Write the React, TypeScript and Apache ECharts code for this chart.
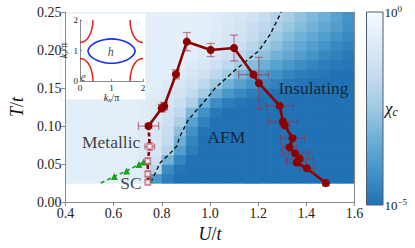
import React, { useEffect, useRef } from "react";
import * as echarts from "echarts";

// ---------- heat map of chi_c (log10), cells centred on these U / T values ----------
const U_CELLS = [0.425, 0.475, 0.525, 0.575, 0.625, 0.675, 0.725, 0.775, 0.825, 0.875, 0.925, 0.975, 1.025, 1.075, 1.125, 1.175, 1.225, 1.275, 1.325, 1.375, 1.425, 1.475, 1.525, 1.575];
const T_CELLS = [0.03125, 0.04375, 0.05625, 0.06875, 0.08125, 0.09375, 0.10625, 0.11875, 0.13125, 0.14375, 0.15625, 0.16875, 0.18125, 0.19375, 0.20625, 0.21875, 0.23125, 0.24375];
const LOG_CHI = [
  [-0.7, -0.7, -0.7, -0.7, -0.7, -0.7, -0.8, -4.0, -4.7, -5, -5, -5, -5, -5, -5, -5, -5, -5, -5, -5, -5, -5, -5, -5],
  [-0.7, -0.7, -0.7, -0.7, -0.7, -0.7, -0.8, -2.0, -4.3, -4.9, -5, -5, -5, -5, -5, -5, -5, -5, -5, -5, -5, -5, -5, -5],
  [-0.7, -0.7, -0.7, -0.7, -0.7, -0.7, -0.9, -1.4, -3.2, -4.5, -5, -5, -5, -5, -5, -5, -5, -5, -5, -5, -5, -5, -5, -5],
  [-0.7, -0.7, -0.7, -0.7, -0.7, -0.7, -0.9, -1.2, -2.0, -3.8, -4.7, -5, -5, -5, -5, -5, -5, -5, -5, -5, -5, -5, -5, -5],
  [-0.7, -0.7, -0.7, -0.7, -0.7, -0.7, -0.9, -1.1, -1.7, -3.3, -4.5, -5, -5, -5, -5, -5, -5, -5, -5, -5, -5, -5, -5, -5],
  [-0.7, -0.7, -0.7, -0.7, -0.7, -0.7, -0.9, -1.1, -1.6, -2.8, -4.2, -4.9, -5, -5, -5, -5, -5, -5, -5, -5, -5, -5, -5, -5],
  [-0.7, -0.7, -0.7, -0.7, -0.7, -0.7, -0.8, -1.0, -1.4, -2.2, -3.7, -4.6, -5, -5, -5, -5, -5, -5, -5, -5, -5, -5, -5, -5],
  [-0.7, -0.7, -0.7, -0.7, -0.7, -0.7, -0.8, -1.0, -1.3, -1.8, -3.0, -4.2, -4.8, -5, -5, -5, -5, -5, -5, -5, -5, -5, -5, -5],
  [-0.7, -0.7, -0.7, -0.7, -0.7, -0.7, -0.8, -0.9, -1.2, -1.5, -2.2, -3.4, -4.3, -4.7, -4.9, -5, -5, -5, -5, -5, -5, -5, -5, -5],
  [-0.7, -0.7, -0.7, -0.7, -0.7, -0.7, -0.7, -0.8, -1.0, -1.3, -1.7, -2.4, -3.4, -4.0, -4.4, -4.7, -4.9, -5, -5, -5, -5, -5, -5, -5],
  [-0.7, -0.7, -0.7, -0.7, -0.7, -0.7, -0.7, -0.7, -0.9, -1.1, -1.4, -1.8, -2.5, -3.2, -3.7, -4.1, -4.4, -4.6, -4.8, -4.9, -5, -5, -5, -5],
  [-0.7, -0.7, -0.7, -0.7, -0.7, -0.7, -0.7, -0.7, -0.7, -0.9, -1.1, -1.4, -1.8, -2.4, -3.0, -3.5, -3.9, -4.2, -4.5, -4.7, -4.8, -4.9, -5, -5],
  [-0.7, -0.7, -0.7, -0.7, -0.7, -0.7, -0.7, -0.7, -0.7, -0.7, -0.9, -1.1, -1.4, -1.8, -2.3, -2.9, -3.3, -3.7, -4.0, -4.3, -4.5, -4.7, -4.8, -4.9],
  [-0.7, -0.7, -0.7, -0.7, -0.7, -0.7, -0.7, -0.7, -0.7, -0.7, -0.7, -0.9, -1.1, -1.4, -1.8, -2.3, -2.8, -3.2, -3.5, -3.8, -4.1, -4.4, -4.6, -4.8],
  [-0.7, -0.7, -0.7, -0.7, -0.7, -0.7, -0.7, -0.7, -0.7, -0.7, -0.7, -0.8, -1.0, -1.2, -1.5, -1.9, -2.4, -2.8, -3.2, -3.5, -3.8, -4.1, -4.4, -4.6],
  [-0.6, -0.6, -0.6, -0.6, -0.6, -0.6, -0.6, -0.6, -0.6, -0.6, -0.6, -0.7, -0.9, -1.1, -1.3, -1.6, -2.0, -2.5, -2.9, -3.2, -3.5, -3.8, -4.1, -4.4],
  [-0.6, -0.6, -0.6, -0.6, -0.6, -0.6, -0.6, -0.6, -0.6, -0.6, -0.6, -0.7, -0.8, -1.0, -1.2, -1.5, -1.8, -2.2, -2.6, -2.9, -3.2, -3.5, -3.8, -4.2],
  [-0.6, -0.6, -0.6, -0.6, -0.6, -0.6, -0.6, -0.6, -0.6, -0.6, -0.6, -0.7, -0.8, -0.9, -1.1, -1.3, -1.6, -2.0, -2.3, -2.7, -3.0, -3.3, -3.7, -4.1],
];
const LOG_MIN = -5;
const LOG_MAX = 0;
const BLUES = ["#2171b5", "#4292c6", "#6baed6", "#9ecae1", "#c6dbef", "#deebf7", "#f7fbff"];

// ---------- T_c line (solid, filled circles) ----------
const U_MAIN = [0.745, 0.8, 0.81, 0.859, 0.904, 1.003, 1.1, 1.181, 1.203, 1.29, 1.303, 1.31, 1.343, 1.33, 1.354, 1.372, 1.36, 1.402, 1.481];
const T_MAIN = [0.1, 0.1235, 0.126, 0.168, 0.211, 0.2, 0.2026, 0.1676, 0.1564, 0.1265, 0.106, 0.101, 0.084, 0.072, 0.064, 0.057, 0.052, 0.0445, 0.025];
const UERR_MAIN = [0.042, 0.012, 0.012, 0.012, 0.004, 0.004, 0.004, 0.062, 0.004, 0.057, 0.06, 0.02, 0.05, 0.03, 0.055, 0.057, 0.04, 0.03, 0.012];
const TERR_MAIN = [0.003, 0.005, 0.005, 0.006, 0.012, 0.0086, 0.017, 0.003, 0.034, 0.003, 0.003, 0.003, 0.003, 0.003, 0.003, 0.003, 0.003, 0.003, 0.003];

// ---------- lower (dashed) branch, open squares ----------
const U_LOW = [0.745, 0.75, 0.742, 0.742, 0.742];
const T_LOW = [0.1, 0.073, 0.054, 0.037, 0.026];
const UERR_LOW = [0, 0.02, 0.006, 0.006, 0.006];
const TERR_LOW = [0, 0.005, 0.004, 0.004, 0.003];

// ---------- SC line (green triangles) ----------
const U_SC = [0.547, 0.603, 0.654, 0.705, 0.725, 0.741, 0.748];
const T_SC = [0.025, 0.0337, 0.041, 0.0496, 0.0526, 0.054, 0.03];

// ---------- AFM boundary (black dashed) ----------
const U_AFM = [0.754, 0.768, 0.794, 0.828, 0.861, 0.875, 0.908, 0.942, 0.989, 1.022, 1.102, 1.203, 1.25, 1.296];
const T_AFM = [0.026, 0.035, 0.052, 0.062, 0.073, 0.086, 0.107, 0.12, 0.137, 0.15, 0.173, 0.199, 0.2205, 0.25];

// ---------- region labels ----------
const REGION_LABELS = ["Metallic", "SC", "AFM", "Insulating"];
const REGION_U = [0.59, 0.672, 1.068, 1.43];
const REGION_T = [0.0795, 0.0253, 0.0859, 0.15];

// ---------- inset Fermi surface ----------
const POCKET_KX = [0, 0.12, 0.22, 0.3, 0.36, 0.4, 0.41];
const POCKET_KY = [0.74, 0.71, 0.63, 0.51, 0.36, 0.17, 0];
const HOLE_KX = [0.25, 0.3, 0.4, 0.55, 0.75, 1.0, 1.25, 1.45, 1.6, 1.7, 1.75];
const HOLE_KY_UPPER = [0.98, 1.1, 1.2, 1.29, 1.35, 1.38, 1.35, 1.29, 1.2, 1.1, 0.98];
const HOLE_KY_LOWER = [0.98, 0.86, 0.76, 0.67, 0.61, 0.58, 0.61, 0.67, 0.76, 0.86, 0.98];
const INSET_LABELS = ["h", "e"];
const INSET_LABEL_KX = [0.98, 0.1];
const INSET_LABEL_KY = [0.96, 0.12];

const SERIF = "'Liberation Serif', 'DejaVu Serif', serif";
const DARKRED = "#8b0000";
const ERR_COLOR = "rgba(160, 45, 65, 0.55)";

function zip(a: number[], b: number[]) {
  return a.map((v, i) => [v, b[i]]);
}

export default function App() {
  const ref = useRef<HTMLDivElement>(null);
  useEffect(() => {
    if (!ref.current) return;
    const chart = echarts.init(ref.current, null, { renderer: "svg" });

    const heatData: number[][] = [];
    T_CELLS.forEach((t, r) => U_CELLS.forEach((u, c) => heatData.push([u, t, LOG_CHI[r][c]])));
    const halfU = (U_CELLS[1] - U_CELLS[0]) / 2;
    const halfT = (T_CELLS[1] - T_CELLS[0]) / 2;

    const errRender = (capHalf: number) => (params: any, api: any) => {
      const u = api.value(0), t = api.value(1), ue = api.value(2), te = api.value(3);
      const children: any[] = [];
      const style = { stroke: ERR_COLOR, lineWidth: 1.3 };
      const ln = (x1: number, y1: number, x2: number, y2: number) =>
        children.push({ type: "line", shape: { x1, y1, x2, y2 }, style });
      if (ue > 0) {
        const a = api.coord([u - ue, t]);
        const b = api.coord([u + ue, t]);
        ln(a[0], a[1], b[0], b[1]);
        ln(a[0], a[1] - capHalf, a[0], a[1] + capHalf);
        ln(b[0], b[1] - capHalf, b[0], b[1] + capHalf);
      }
      if (te > 0) {
        const a = api.coord([u, t - te]);
        const b = api.coord([u, t + te]);
        ln(a[0], a[1], b[0], b[1]);
        ln(a[0] - capHalf, a[1], a[0] + capHalf, a[1]);
        ln(b[0] - capHalf, b[1], b[0] + capHalf, b[1]);
      }
      return { type: "group", children };
    };

    const mainAxisLine = { show: true, lineStyle: { color: "#8a8a8a", width: 1 } };
    const tickLabel = { fontFamily: SERIF, fontSize: 14, color: "#222" };
    const insetLabel = { fontFamily: SERIF, fontSize: 9, color: "#222" };

    const pocket = zip(POCKET_KX, POCKET_KY);
    const pockets = [
      pocket,
      pocket.map(([x, y]) => [2 - x, y]),
      pocket.map(([x, y]) => [x, 2 - y]),
      pocket.map(([x, y]) => [2 - x, 2 - y]),
    ];
    const hole = [...zip(HOLE_KX, HOLE_KY_UPPER), ...zip(HOLE_KX, HOLE_KY_LOWER).reverse()];

    const option: any = {
      animation: false,
      backgroundColor: "#ffffff",
      grid: [
        { left: 55.5, top: 12, width: 299, height: 194 },
        { left: 80, top: 20, width: 63, height: 61 },
      ],
      xAxis: [
        {
          type: "value", gridIndex: 0, position: "bottom", min: 0.4, max: 1.6, interval: 0.2, z: 70,
          axisLine: mainAxisLine, axisTick: { show: true, length: 4, lineStyle: { color: "#8a8a8a" } },
          axisLabel: { ...tickLabel, margin: 4, formatter: (v: number) => v.toFixed(1) },
          splitLine: { show: false },
          name: "{i|U}{n|/}{i|t}", nameLocation: "middle", nameGap: 21,
          nameTextStyle: { rich: { i: { fontFamily: SERIF, fontSize: 18, fontStyle: "italic", color: "#111" }, n: { fontFamily: SERIF, fontSize: 18, color: "#111" } } },
        },
        {
          type: "value", gridIndex: 0, position: "top", min: 0.4, max: 1.6, z: 70,
          axisLine: mainAxisLine, axisTick: { show: false }, axisLabel: { show: false }, splitLine: { show: false },
        },
        {
          type: "value", gridIndex: 1, position: "bottom", min: 0, max: 2, interval: 1, z: 90,
          axisLine: mainAxisLine, axisTick: { show: true, inside: true, length: 2, lineStyle: { color: "#8a8a8a" } },
          axisLabel: { ...insetLabel, margin: 2 }, splitLine: { show: false },
          name: "{i|k}{s|x}{n|/π}", nameLocation: "middle", nameGap: 9,
          nameTextStyle: {
            rich: {
              i: { fontFamily: SERIF, fontSize: 10, fontStyle: "italic", color: "#222", lineHeight: 12 },
              s: { fontFamily: SERIF, fontSize: 7, fontStyle: "italic", color: "#222", lineHeight: 8, verticalAlign: "bottom" },
              n: { fontFamily: SERIF, fontSize: 10, color: "#222", lineHeight: 12 },
            },
          },
        },
        {
          type: "value", gridIndex: 1, position: "top", min: 0, max: 2, z: 90,
          axisLine: mainAxisLine, axisTick: { show: false }, axisLabel: { show: false }, splitLine: { show: false },
        },
      ],
      yAxis: [
        {
          type: "value", gridIndex: 0, position: "left", min: 0, max: 0.25, interval: 0.05, z: 70,
          axisLine: mainAxisLine, axisTick: { show: true, length: 4, lineStyle: { color: "#8a8a8a" } },
          axisLabel: { ...tickLabel, margin: 4, formatter: (v: number) => v.toFixed(2) },
          splitLine: { show: false },
          name: "{i|T}{n|/}{i|t}", nameLocation: "middle", nameGap: 34, nameRotate: 90,
          nameTextStyle: { rich: { i: { fontFamily: SERIF, fontSize: 18, fontStyle: "italic", color: "#111" }, n: { fontFamily: SERIF, fontSize: 18, color: "#111" } } },
        },
        {
          type: "value", gridIndex: 0, position: "right", min: 0, max: 0.25, z: 70,
          axisLine: mainAxisLine, axisTick: { show: false }, axisLabel: { show: false }, splitLine: { show: false },
        },
        {
          type: "value", gridIndex: 1, position: "left", min: 0, max: 2, interval: 1, z: 90,
          axisLine: mainAxisLine, axisTick: { show: true, inside: true, length: 2, lineStyle: { color: "#8a8a8a" } },
          axisLabel: { ...insetLabel, margin: 2 }, splitLine: { show: false },
          name: "{i|k}{s|y}{n|/π}", nameLocation: "middle", nameGap: 8, nameRotate: 90,
          nameTextStyle: {
            rich: {
              i: { fontFamily: SERIF, fontSize: 10, fontStyle: "italic", color: "#222", lineHeight: 12 },
              s: { fontFamily: SERIF, fontSize: 7, fontStyle: "italic", color: "#222", lineHeight: 8, verticalAlign: "bottom" },
              n: { fontFamily: SERIF, fontSize: 10, color: "#222", lineHeight: 12 },
            },
          },
        },
        {
          type: "value", gridIndex: 1, position: "right", min: 0, max: 2, z: 90,
          axisLine: mainAxisLine, axisTick: { show: false }, axisLabel: { show: false }, splitLine: { show: false },
        },
      ],
      visualMap: {
        show: false, seriesIndex: 0, dimension: 2, min: LOG_MIN, max: LOG_MAX,
        inRange: { color: BLUES },
      },
      graphic: [
        {
          type: "rect", z: 50, shape: { x: 61, y: 13, width: 85, height: 87 },
          style: { fill: "rgba(255,255,255,0.96)", stroke: "rgba(228,235,243,1)", lineWidth: 1 },
        },
        {
          type: "rect", z: 50, shape: { x: 366.5, y: 12, width: 16.5, height: 193 },
          style: {
            fill: new echarts.graphic.LinearGradient(0, 0, 0, 1, BLUES.slice().reverse().map((c, i) => ({ offset: i / (BLUES.length - 1), color: c }))),
            stroke: "#4a5a70", lineWidth: 1,
          },
        },
        {
          type: "text", z: 50, x: 384.5, y: 12,
          style: {
            text: "{a|10}{b|0}", verticalAlign: "middle", align: "left",
            rich: {
              a: { fontFamily: SERIF, fontSize: 13, fill: "#222", lineHeight: 16 },
              b: { fontFamily: SERIF, fontSize: 9, fill: "#222", lineHeight: 9, verticalAlign: "top" },
            },
          },
        },
        {
          type: "text", z: 50, x: 384.5, y: 205,
          style: {
            text: "{a|10}{b|−5}", verticalAlign: "middle", align: "left",
            rich: {
              a: { fontFamily: SERIF, fontSize: 13, fill: "#222", lineHeight: 16 },
              b: { fontFamily: SERIF, fontSize: 9, fill: "#222", lineHeight: 9, verticalAlign: "top" },
            },
          },
        },
        {
          type: "text", z: 50, x: 385, y: 108,
          style: {
            text: "{a|χ}{b|c}", verticalAlign: "middle", align: "left",
            rich: {
              a: { fontFamily: SERIF, fontSize: 17, fontStyle: "italic", fill: "#111", lineHeight: 20 },
              b: { fontFamily: SERIF, fontSize: 12, fontStyle: "italic", fill: "#111", lineHeight: 12, verticalAlign: "bottom" },
            },
          },
        },
      ],
      series: [
        {
          type: "custom", xAxisIndex: 0, yAxisIndex: 0, z: 1, clip: true,
          encode: { x: 0, y: 1 },
          data: heatData,
          renderItem: (params: any, api: any) => {
            const u = api.value(0), t = api.value(1);
            const p0 = api.coord([u - halfU, t + halfT]);
            const p1 = api.coord([u + halfU, t - halfT]);
            return {
              type: "rect",
              shape: { x: p0[0], y: p0[1], width: p1[0] - p0[0] + 0.6, height: p1[1] - p0[1] + 0.6 },
              style: { fill: api.visual("color"), stroke: null },
            };
          },
        },
        {
          type: "line", xAxisIndex: 0, yAxisIndex: 0, z: 4,
          data: zip(U_AFM, T_AFM), symbol: "none",
          lineStyle: { color: "#111", width: 1.4, type: [4, 3] },
        },
        {
          type: "line", xAxisIndex: 0, yAxisIndex: 0, z: 5,
          data: zip(U_SC, T_SC).map((p, i) => (i === 0 ? { value: p, symbol: "none" } : { value: p })),
          symbol: "triangle", symbolSize: 7,
          itemStyle: { color: "#1f9e1f" },
          lineStyle: { color: "#1f9e1f", width: 1.6, type: [4, 3] },
        },
        {
          type: "custom", xAxisIndex: 0, yAxisIndex: 0, z: 6, encode: { x: 0, y: 1 },
          data: U_LOW.map((u, i) => [u, T_LOW[i], UERR_LOW[i], TERR_LOW[i]]),
          renderItem: errRender(3),
        },
        {
          type: "line", xAxisIndex: 0, yAxisIndex: 0, z: 7,
          data: zip(U_LOW, T_LOW).map((p, i) => (i === 0 ? { value: p, symbol: "none" } : { value: p })),
          symbol: "emptyRect", symbolSize: 5,
          itemStyle: { color: "rgba(190,80,100,0.6)", borderColor: "rgba(190,80,100,0.6)", borderWidth: 1 },
          lineStyle: { color: DARKRED, width: 2.6, type: [4, 2.5] },
        },
        {
          type: "custom", xAxisIndex: 0, yAxisIndex: 0, z: 8, encode: { x: 0, y: 1 },
          data: U_MAIN.map((u, i) => [u, T_MAIN[i], UERR_MAIN[i], TERR_MAIN[i]]),
          renderItem: errRender(4),
        },
        {
          type: "line", xAxisIndex: 0, yAxisIndex: 0, z: 9,
          data: zip(U_MAIN, T_MAIN), symbol: "circle", symbolSize: 8,
          itemStyle: { color: DARKRED },
          lineStyle: { color: DARKRED, width: 2.6 },
        },
        {
          type: "scatter", xAxisIndex: 0, yAxisIndex: 0, z: 10, symbolSize: 0,
          data: REGION_LABELS.map((name, i) => ({ name, value: [REGION_U[i], REGION_T[i]] })),
          label: {
            show: true, position: "inside", formatter: (p: any) => p.name,
            fontFamily: SERIF, fontSize: 17.5, color: "#111",
          },
        },
        ...pockets.map((pts) => ({
          type: "line", xAxisIndex: 2, yAxisIndex: 2, z: 95, data: pts, symbol: "none", smooth: true,
          lineStyle: { color: "#ee1c1c", width: 1.5 },
        })),
        {
          type: "line", xAxisIndex: 2, yAxisIndex: 2, z: 95, data: hole, symbol: "none", smooth: true,
          lineStyle: { color: "#1f2fe8", width: 1.6 },
        },
        {
          type: "scatter", xAxisIndex: 2, yAxisIndex: 2, z: 96, symbolSize: 0,
          data: INSET_LABELS.map((name, i) => ({ name, value: [INSET_LABEL_KX[i], INSET_LABEL_KY[i]] })),
          label: {
            show: true, position: "inside", formatter: (p: any) => p.name,
            fontFamily: SERIF, fontSize: 12, fontStyle: "italic", color: "#111",
          },
        },
      ],
    };
    chart.setOption(option);
    return () => chart.dispose();
  }, []);
  return <div ref={ref} style={{ position: "fixed", left: 0, top: 0, width: 415, height: 248 }} />;
}
